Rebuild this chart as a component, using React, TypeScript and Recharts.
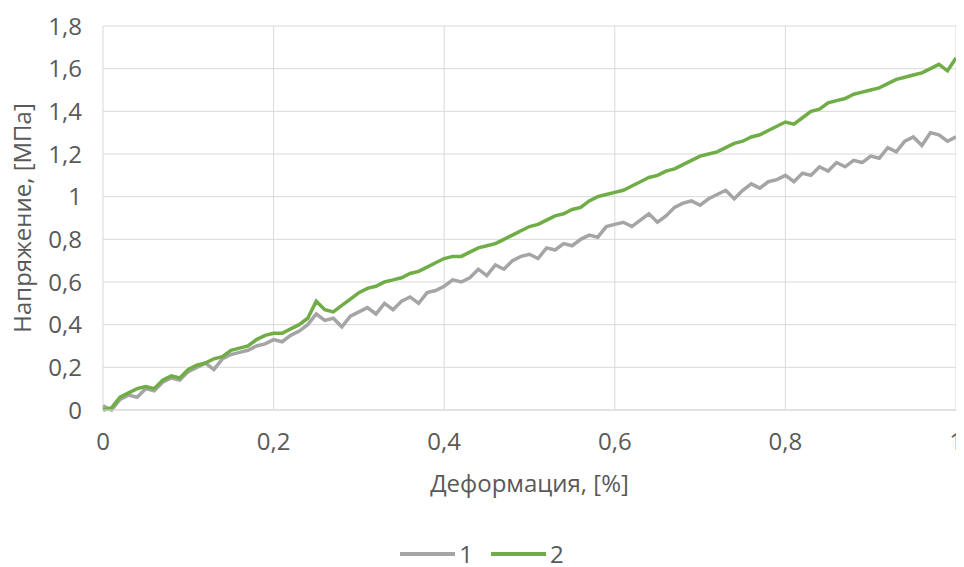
import { CartesianGrid, Line, LineChart, XAxis, YAxis } from "recharts";

// Деформация, [%] — точки по оси X
const deformation = [
  0, 0.01, 0.02, 0.03, 0.04, 0.05, 0.06, 0.07, 0.08, 0.09,
  0.1, 0.11, 0.12, 0.13, 0.14, 0.15, 0.16, 0.17, 0.18, 0.19,
  0.2, 0.21, 0.22, 0.23, 0.24, 0.25, 0.26, 0.27, 0.28, 0.29,
  0.3, 0.31, 0.32, 0.33, 0.34, 0.35, 0.36, 0.37, 0.38, 0.39,
  0.4, 0.41, 0.42, 0.43, 0.44, 0.45, 0.46, 0.47, 0.48, 0.49,
  0.5, 0.51, 0.52, 0.53, 0.54, 0.55, 0.56, 0.57, 0.58, 0.59,
  0.6, 0.61, 0.62, 0.63, 0.64, 0.65, 0.66, 0.67, 0.68, 0.69,
  0.7, 0.71, 0.72, 0.73, 0.74, 0.75, 0.76, 0.77, 0.78, 0.79,
  0.8, 0.81, 0.82, 0.83, 0.84, 0.85, 0.86, 0.87, 0.88, 0.89,
  0.9, 0.91, 0.92, 0.93, 0.94, 0.95, 0.96, 0.97, 0.98, 0.99,
  1,
];

// образец 1 (серый)
const series1 = [
  0.02, 0.0, 0.05, 0.07, 0.06, 0.1, 0.09, 0.13, 0.15, 0.14,
  0.18, 0.2, 0.22, 0.19, 0.24, 0.26, 0.27, 0.28, 0.3, 0.31,
  0.33, 0.32, 0.35, 0.37, 0.4, 0.45, 0.42, 0.43, 0.39, 0.44,
  0.46, 0.48, 0.45, 0.5, 0.47, 0.51, 0.53, 0.5, 0.55, 0.56,
  0.58, 0.61, 0.6, 0.62, 0.66, 0.63, 0.68, 0.66, 0.7, 0.72,
  0.73, 0.71, 0.76, 0.75, 0.78, 0.77, 0.8, 0.82, 0.81, 0.86,
  0.87, 0.88, 0.86, 0.89, 0.92, 0.88, 0.91, 0.95, 0.97, 0.98,
  0.96, 0.99, 1.01, 1.03, 0.99, 1.03, 1.06, 1.04, 1.07, 1.08,
  1.1, 1.07, 1.11, 1.1, 1.14, 1.12, 1.16, 1.14, 1.17, 1.16,
  1.19, 1.18, 1.23, 1.21, 1.26, 1.28, 1.24, 1.3, 1.29, 1.26,
  1.28,
];

// образец 2 (зелёный)
const series2 = [
  0.0, 0.01, 0.06, 0.08, 0.1, 0.11, 0.1, 0.14, 0.16, 0.15,
  0.19, 0.21, 0.22, 0.24, 0.25, 0.28, 0.29, 0.3, 0.33, 0.35,
  0.36, 0.36, 0.38, 0.4, 0.43, 0.51, 0.47, 0.46, 0.49, 0.52,
  0.55, 0.57, 0.58, 0.6, 0.61, 0.62, 0.64, 0.65, 0.67, 0.69,
  0.71, 0.72, 0.72, 0.74, 0.76, 0.77, 0.78, 0.8, 0.82, 0.84,
  0.86, 0.87, 0.89, 0.91, 0.92, 0.94, 0.95, 0.98, 1.0, 1.01,
  1.02, 1.03, 1.05, 1.07, 1.09, 1.1, 1.12, 1.13, 1.15, 1.17,
  1.19, 1.2, 1.21, 1.23, 1.25, 1.26, 1.28, 1.29, 1.31, 1.33,
  1.35, 1.34, 1.37, 1.4, 1.41, 1.44, 1.45, 1.46, 1.48, 1.49,
  1.5, 1.51, 1.53, 1.55, 1.56, 1.57, 1.58, 1.6, 1.62, 1.59,
  1.65,
];

const xTicks = [0, 0.2, 0.4, 0.6, 0.8, 1];
const yTicks = [0, 0.2, 0.4, 0.6, 0.8, 1, 1.2, 1.4, 1.6, 1.8];

const GRAY = "#a5a5a5";
const GREEN = "#70ad47";
const TEXT = "#595959";
const FONT = "'Open Sans', sans-serif";

const rows = deformation.map((x, i) => ({ x, s1: series1[i], s2: series2[i] }));

// 0.2 -> "0,2"
const fmt = (v: number) => String(Math.round(v * 10) / 10).replace(".", ",");

function LegendItem({ color, label }: { color: string; label: string }) {
  return (
    <span style={{ display: "inline-flex", alignItems: "center", margin: "0 9px" }}>
      <svg width={55} height={8}>
        <line x1={0} y1={4} x2={55} y2={4} stroke={color} strokeWidth={4} />
      </svg>
      <span style={{ marginLeft: 4 }}>{label}</span>
    </span>
  );
}

export default function App() {
  return (
    <div
      style={{
        position: "relative",
        width: 964,
        height: 567,
        margin: "-8px 0 0 -8px",
        fontFamily: FONT,
        background: "#fff",
      }}
    >
      <LineChart
        width={964}
        height={567}
        data={rows}
        margin={{ top: 26, right: 8, bottom: 57, left: 0 }}
      >
        <CartesianGrid stroke="#d9d9d9" strokeWidth={1} />
        <XAxis
          dataKey="x"
          type="number"
          domain={[0, 1]}
          ticks={xTicks}
          tickFormatter={fmt}
          height={100}
          tickSize={0}
          tickMargin={23}
          axisLine={{ stroke: "#d9d9d9" }}
          tick={{ fill: TEXT, fontSize: 24, fontFamily: FONT }}
          label={{
            value: "Деформация, [%]",
            position: "insideBottom",
            offset: 18,
            fill: TEXT,
            fontSize: 24,
            fontFamily: FONT,
          }}
        />
        <YAxis
          type="number"
          domain={[0, 1.8]}
          ticks={yTicks}
          tickFormatter={fmt}
          width={103}
          tickSize={0}
          tickMargin={21}
          axisLine={false}
          tick={{ fill: TEXT, fontSize: 24, fontFamily: FONT }}
          label={{
            value: "Напряжение, [МПа]",
            angle: -90,
            position: "center",
            dx: -29,
            fill: TEXT,
            fontSize: 24,
            fontFamily: FONT,
          }}
        />
        <Line
          type="linear"
          dataKey="s1"
          stroke={GRAY}
          strokeWidth={3.5}
          dot={false}
          isAnimationActive={false}
          name="1"
        />
        <Line
          type="linear"
          dataKey="s2"
          stroke={GREEN}
          strokeWidth={3.5}
          dot={false}
          isAnimationActive={false}
          name="2"
        />
      </LineChart>
      <div
        style={{
          position: "absolute",
          top: 537,
          left: 0,
          width: 964,
          textAlign: "center",
          color: TEXT,
          fontSize: 24,
          lineHeight: "24px",
        }}
      >
        <LegendItem color={GRAY} label="1" />
        <LegendItem color={GREEN} label="2" />
      </div>
    </div>
  );
}
